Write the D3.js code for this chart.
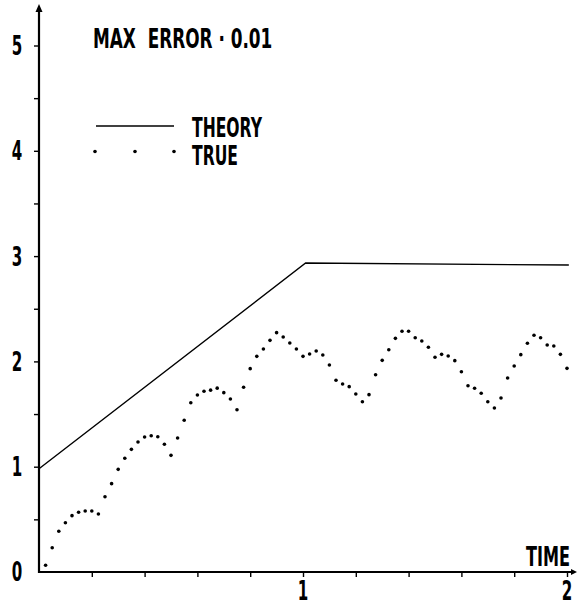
<!DOCTYPE html>
<html>
<head>
<meta charset="utf-8">
<script src="https://cdn.jsdelivr.net/npm/d3@7"></script>
<style>
  body { margin: 0; background: #fff; }
  text { font-family: "DejaVu Sans", sans-serif; font-weight: bold; fill: #000; }
</style>
</head>
<body>
<div id="plot"></div>
<script>
// chart values
var theoryTime = [0, 1.01, 2.007];
var theoryValue = [0.98, 2.934, 2.915];

// "true" samples, one every 0.025 time units
var trueStep = 0.025;
var trueValue = [
  0.064, 0.231, 0.387, 0.468, 0.535, 0.567, 0.579, 0.579, 0.551, 0.715,
  0.839, 0.975, 1.080, 1.165, 1.235, 1.282, 1.294, 1.285, 1.213, 1.108,
  1.273, 1.441, 1.608, 1.681, 1.716, 1.727, 1.746, 1.703, 1.643, 1.541,
  1.754, 1.931, 2.048, 2.118, 2.200, 2.273, 2.232, 2.175, 2.118, 2.048,
  2.070, 2.099, 2.061, 1.966, 1.821, 1.785, 1.760, 1.690, 1.617, 1.684,
  1.873, 2.010, 2.111, 2.219, 2.286, 2.286, 2.225, 2.194, 2.134, 2.039,
  2.067, 2.051, 2.007, 1.902, 1.769, 1.745, 1.697, 1.617, 1.557, 1.652,
  1.842, 1.956, 2.064, 2.172, 2.248, 2.225, 2.156, 2.146, 2.067, 1.934
];

var xTicks = [0.2, 0.4, 0.6, 0.8, 1, 1.2, 1.4, 1.6, 1.8, 2];
var xLabels = [1, 2];
var yTicks = [0.5, 1, 1.5, 2, 2.5, 3, 3.5, 4, 4.5, 5];
var yLabels = [0, 1, 2, 3, 4, 5];

var width = 578, height = 610;

var svg = d3.select("#plot").append("svg")
    .attr("width", width)
    .attr("height", height);

var x = d3.scaleLinear().domain([0, 2]).range([39, 567]);
var y = d3.scaleLinear().domain([0, 5]).range([572, 45.5]);

// narrow lettering: squeeze the text horizontally
function label(px, py, str, anchor, sx) {
    return svg.append("text")
        .attr("transform", "translate(" + px + "," + py + ") scale(" + sx + ",1)")
        .attr("text-anchor", anchor)
        .style("font-size", "26px")
        .style("white-space", "pre")
        .text(str);
}

// axes
var xAxis = d3.axisBottom(x).tickValues(xTicks).tickSize(5).tickFormat("");
svg.append("g").attr("transform", "translate(0," + y(0) + ")").call(xAxis)
    .call(g => g.select(".domain").remove())
    .call(g => g.selectAll("line").attr("stroke-width", 1.4));

var yAxis = d3.axisLeft(y).tickValues(yTicks).tickSize(5).tickFormat("");
svg.append("g").attr("transform", "translate(" + x(0) + ",0)").call(yAxis)
    .call(g => g.select(".domain").remove())
    .call(g => g.selectAll("line").attr("stroke-width", 1.4));

// axis lines with arrowheads
svg.append("line")
    .attr("x1", x(0)).attr("y1", y(0) + 1)
    .attr("x2", x(0)).attr("y2", 8)
    .attr("stroke", "#000").attr("stroke-width", 2.2);
svg.append("path")
    .attr("d", "M" + x(0) + ",4 L" + (x(0) - 3.5) + ",12 L" + (x(0) + 3.5) + ",12 Z")
    .attr("fill", "#000");

svg.append("line")
    .attr("x1", x(0) - 1).attr("y1", y(0))
    .attr("x2", 574).attr("y2", y(0))
    .attr("stroke", "#000").attr("stroke-width", 2);
svg.append("path")
    .attr("d", "M577," + y(0) + " L571," + (y(0) - 3) + " L571," + (y(0) + 3) + " Z")
    .attr("fill", "#000");

// tick labels
yLabels.forEach(function(d) {
    label(17, y(d) + 9.4, d, "middle", 0.58);
});
xLabels.forEach(function(d) {
    label(x(d), 600, d, "middle", 0.58);
});
label(570, 566, "TIME", "end", 0.62);

// theory line
var line = d3.line()
    .x((d, i) => x(theoryTime[i]))
    .y(d => y(d));

svg.append("path")
    .datum(theoryValue)
    .attr("d", line)
    .attr("fill", "none")
    .attr("stroke", "#000")
    .attr("stroke-width", 1.4);

// true points
svg.selectAll(".dot")
    .data(trueValue)
    .enter().append("circle")
    .attr("class", "dot")
    .attr("cx", (d, i) => x((i + 1) * trueStep))
    .attr("cy", d => y(d))
    .attr("r", 1.8)
    .attr("fill", "#000");

// title
label(93, 48, "MAX  ERROR \u00b7 0.01", "start", 0.65);

// legend
svg.append("line")
    .attr("x1", 96).attr("x2", 174)
    .attr("y1", 126).attr("y2", 126)
    .attr("stroke", "#000").attr("stroke-width", 1.4);
label(192, 137, "THEORY", "start", 0.6);

svg.selectAll(".legdot")
    .data([95, 135, 174])
    .enter().append("circle")
    .attr("class", "legdot")
    .attr("cx", d => d)
    .attr("cy", 151.5)
    .attr("r", 1.8)
    .attr("fill", "#000");
label(192, 165, "TRUE", "start", 0.6);
</script>
</body>
</html>
